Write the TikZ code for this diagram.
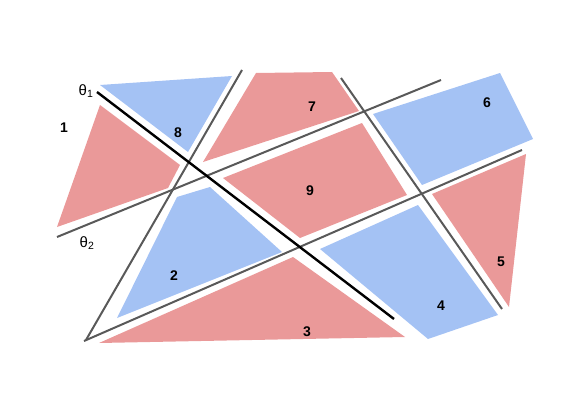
\documentclass[tikz,border=0pt]{standalone}
\usepackage{fontspec}
\setmainfont{Liberation Sans}
\usepackage{xcolor}
\usepackage{tikz}
\usetikzlibrary{positioning}

\definecolor{cellred}{HTML}{EA9999}
\definecolor{cellblue}{HTML}{A4C2F4}
\definecolor{cutgray}{HTML}{595959}

\begin{document}
\begin{tikzpicture}[
      x=1pt, y=-1pt,
      redcell/.style={fill=cellred, draw=none},
      bluecell/.style={fill=cellblue, draw=none},
      cut/.style={draw=cutgray, line width=2pt},
      firstcut/.style={draw=black, line width=2.4pt},
      num/.style={font=\fontsize{14}{16}\selectfont\bfseries, inner sep=0pt},
      angle/.style={font=\fontsize{15}{17}\selectfont, inner sep=0pt}
    ]
    \useasboundingbox (0,0) rectangle (585,414);

    % Cells
    \fill[redcell]  (100,105) -- (180,165) -- (168,188) -- (57,227) -- cycle;
    \fill[bluecell] (100,85) -- (232,76) -- (188,152) -- cycle;
    \fill[redcell]  (256,73) -- (332,72) -- (359,111) -- (203,162) -- cycle;
    \fill[redcell]  (223,178) -- (362,123) -- (407,195) -- (300,238) -- cycle;
    \fill[bluecell] (373,114) -- (500,73) -- (533,139) -- (422,185) -- cycle;
    \fill[redcell]  (432,194) -- (526,154) -- (509,307) -- cycle;
    \fill[bluecell] (320,249) -- (418,205) -- (498,315) -- (428,339) -- cycle;
    \fill[redcell]  (99,343) -- (293,257) -- (405,337) -- cycle;
    \fill[bluecell] (117,318) -- (177,197) -- (210,187) -- (282,252) -- cycle;

    % Cut lines
    \coordinate (a1) at (86,340);
    \coordinate (a2) at (242,70);
    \coordinate (b1) at (84,341);
    \coordinate (b2) at (522,150);
    \coordinate (c1) at (57,237);
    \coordinate (c2) at (441,80);
    \coordinate (d1) at (341,78);
    \coordinate (d2) at (502,309);
    \coordinate (e1) at (97,92);
    \coordinate (e2) at (394,319);
    \draw[cut] (a1) -- (a2);
    \draw[cut] (b1) -- (b2);
    \draw[cut] (c1) -- (c2);
    \draw[cut] (d1) -- (d2);
    \draw[firstcut] (e1) -- (e2);

    % Labels
    \node[angle] (t1) at (86,91) {θ\textsubscript{1}};
    \node[angle] (t2) at (87,243) {θ\textsubscript{2}};
    \node[num] (n1) at (64,128) {1};
    \node[num] (n2) at (174,276) {2};
    \node[num] (n3) at (307,332) {3};
    \node[num] (n4) at (441,306) {4};
    \node[num] (n5) at (501,262) {5};
    \node[num] (n6) at (487,103) {6};
    \node[num] (n7) at (312,107) {7};
    \node[num] (n8) at (178,133) {8};
    \node[num] (n9) at (310,191) {9};

  \end{tikzpicture}
\end{document}
